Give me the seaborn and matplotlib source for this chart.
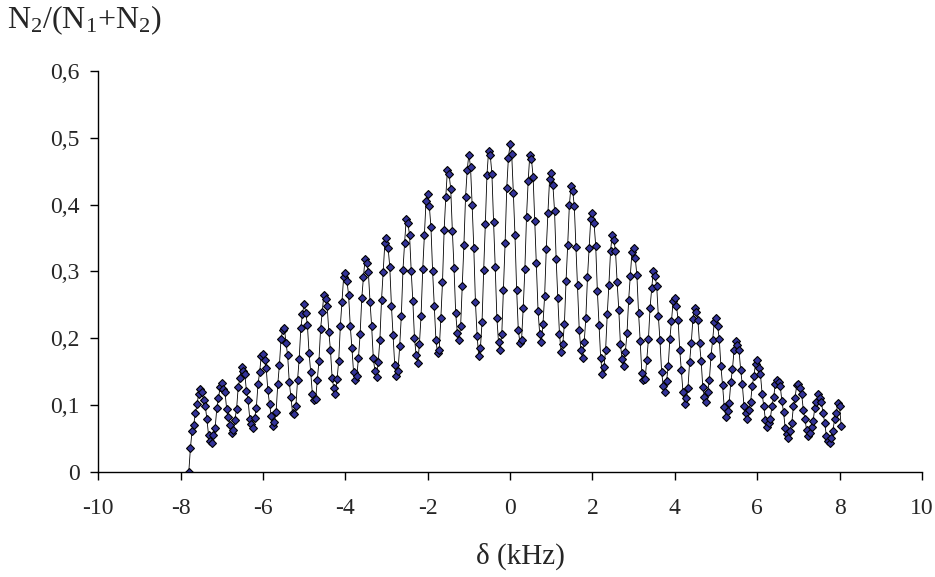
import seaborn as sns
import matplotlib.pyplot as plt
import pandas as pd

delta_khz = [
    -7.80, -7.76, -7.72, -7.68, -7.64, -7.60, -7.56, -7.52, -7.48, -7.44, -7.40, -7.36, -7.32, -7.28, -7.24, -7.20, -7.16, -7.12, -7.08, -7.04, -7.00, -6.96, -6.92, -6.88, -6.84,
    -6.80, -6.76, -6.72, -6.68, -6.64, -6.60, -6.56, -6.52, -6.48, -6.44, -6.40, -6.36, -6.32, -6.28, -6.24, -6.20, -6.16, -6.12, -6.08, -6.04, -6.00, -5.96, -5.92, -5.88, -5.84,
    -5.80, -5.76, -5.72, -5.68, -5.64, -5.60, -5.56, -5.52, -5.48, -5.44, -5.40, -5.36, -5.32, -5.28, -5.24, -5.20, -5.16, -5.12, -5.08, -5.04, -5.00, -4.96, -4.92, -4.88, -4.84,
    -4.80, -4.76, -4.72, -4.68, -4.64, -4.60, -4.56, -4.52, -4.48, -4.44, -4.40, -4.36, -4.32, -4.28, -4.24, -4.20, -4.16, -4.12, -4.08, -4.04, -4.00, -3.96, -3.92, -3.88, -3.84,
    -3.80, -3.76, -3.72, -3.68, -3.64, -3.60, -3.56, -3.52, -3.48, -3.44, -3.40, -3.36, -3.32, -3.28, -3.24, -3.20, -3.16, -3.12, -3.08, -3.04, -3.00, -2.96, -2.92, -2.88, -2.84,
    -2.80, -2.76, -2.72, -2.68, -2.64, -2.60, -2.56, -2.52, -2.48, -2.44, -2.40, -2.36, -2.32, -2.28, -2.24, -2.20, -2.16, -2.12, -2.08, -2.04, -2.00, -1.96, -1.92, -1.88, -1.84,
    -1.80, -1.76, -1.72, -1.68, -1.64, -1.60, -1.56, -1.52, -1.48, -1.44, -1.40, -1.36, -1.32, -1.28, -1.24, -1.20, -1.16, -1.12, -1.08, -1.04, -1.00, -0.96, -0.92, -0.88, -0.84,
    -0.80, -0.76, -0.72, -0.68, -0.64, -0.60, -0.56, -0.52, -0.48, -0.44, -0.40, -0.36, -0.32, -0.28, -0.24, -0.20, -0.16, -0.12, -0.08, -0.04, 0.00, 0.04, 0.08, 0.12, 0.16,
    0.20, 0.24, 0.28, 0.32, 0.36, 0.40, 0.44, 0.48, 0.52, 0.56, 0.60, 0.64, 0.68, 0.72, 0.76, 0.80, 0.84, 0.88, 0.92, 0.96, 1.00, 1.04, 1.08, 1.12, 1.16,
    1.20, 1.24, 1.28, 1.32, 1.36, 1.40, 1.44, 1.48, 1.52, 1.56, 1.60, 1.64, 1.68, 1.72, 1.76, 1.80, 1.84, 1.88, 1.92, 1.96, 2.00, 2.04, 2.08, 2.12, 2.16,
    2.20, 2.24, 2.28, 2.32, 2.36, 2.40, 2.44, 2.48, 2.52, 2.56, 2.60, 2.64, 2.68, 2.72, 2.76, 2.80, 2.84, 2.88, 2.92, 2.96, 3.00, 3.04, 3.08, 3.12, 3.16,
    3.20, 3.24, 3.28, 3.32, 3.36, 3.40, 3.44, 3.48, 3.52, 3.56, 3.60, 3.64, 3.68, 3.72, 3.76, 3.80, 3.84, 3.88, 3.92, 3.96, 4.00, 4.04, 4.08, 4.12, 4.16,
    4.20, 4.24, 4.28, 4.32, 4.36, 4.40, 4.44, 4.48, 4.52, 4.56, 4.60, 4.64, 4.68, 4.72, 4.76, 4.80, 4.84, 4.88, 4.92, 4.96, 5.00, 5.04, 5.08, 5.12, 5.16,
    5.20, 5.24, 5.28, 5.32, 5.36, 5.40, 5.44, 5.48, 5.52, 5.56, 5.60, 5.64, 5.68, 5.72, 5.76, 5.80, 5.84, 5.88, 5.92, 5.96, 6.00, 6.04, 6.08, 6.12, 6.16,
    6.20, 6.24, 6.28, 6.32, 6.36, 6.40, 6.44, 6.48, 6.52, 6.56, 6.60, 6.64, 6.68, 6.72, 6.76, 6.80, 6.84, 6.88, 6.92, 6.96, 7.00, 7.04, 7.08, 7.12, 7.16,
    7.20, 7.24, 7.28, 7.32, 7.36, 7.40, 7.44, 7.48, 7.52, 7.56, 7.60, 7.64, 7.68, 7.72, 7.76, 7.80, 7.84, 7.88, 7.92, 7.96, 8.00, 8.04,
]

ratio = [
    0.000, 0.036, 0.062, 0.071, 0.088, 0.101, 0.117, 0.124, 0.119, 0.108, 0.099, 0.079, 0.055, 0.047, 0.043, 0.056, 0.066, 0.095, 0.110, 0.127, 0.133, 0.124, 0.119, 0.094, 0.082,
    0.070, 0.059, 0.063, 0.078, 0.094, 0.127, 0.140, 0.157, 0.151, 0.147, 0.121, 0.107, 0.080, 0.072, 0.066, 0.081, 0.096, 0.131, 0.149, 0.174, 0.176, 0.168, 0.155, 0.122, 0.102,
    0.084, 0.069, 0.075, 0.090, 0.131, 0.160, 0.199, 0.212, 0.216, 0.193, 0.175, 0.134, 0.112, 0.088, 0.087, 0.098, 0.137, 0.169, 0.215, 0.236, 0.252, 0.238, 0.220, 0.178, 0.150,
    0.117, 0.108, 0.109, 0.138, 0.166, 0.214, 0.240, 0.265, 0.259, 0.248, 0.210, 0.182, 0.141, 0.126, 0.117, 0.139, 0.166, 0.219, 0.255, 0.292, 0.298, 0.286, 0.265, 0.219, 0.186,
    0.150, 0.138, 0.143, 0.171, 0.206, 0.260, 0.291, 0.319, 0.313, 0.299, 0.255, 0.218, 0.170, 0.151, 0.142, 0.165, 0.198, 0.258, 0.299, 0.342, 0.350, 0.335, 0.307, 0.249, 0.205,
    0.160, 0.144, 0.151, 0.188, 0.233, 0.302, 0.343, 0.379, 0.372, 0.355, 0.301, 0.256, 0.200, 0.175, 0.163, 0.192, 0.234, 0.303, 0.355, 0.405, 0.416, 0.398, 0.366, 0.300, 0.249,
    0.198, 0.178, 0.183, 0.230, 0.284, 0.362, 0.412, 0.452, 0.446, 0.423, 0.360, 0.305, 0.238, 0.208, 0.197, 0.218, 0.279, 0.340, 0.412, 0.452, 0.475, 0.457, 0.399, 0.335, 0.254,
    0.204, 0.173, 0.185, 0.224, 0.302, 0.371, 0.445, 0.481, 0.474, 0.446, 0.374, 0.307, 0.231, 0.194, 0.183, 0.207, 0.273, 0.342, 0.425, 0.470, 0.490, 0.476, 0.418, 0.354, 0.273,
    0.213, 0.193, 0.198, 0.246, 0.303, 0.382, 0.435, 0.475, 0.468, 0.442, 0.376, 0.313, 0.241, 0.207, 0.194, 0.222, 0.264, 0.334, 0.388, 0.438, 0.448, 0.430, 0.391, 0.318, 0.260,
    0.207, 0.179, 0.191, 0.222, 0.286, 0.340, 0.399, 0.428, 0.421, 0.398, 0.337, 0.280, 0.213, 0.182, 0.170, 0.194, 0.230, 0.291, 0.335, 0.379, 0.388, 0.372, 0.338, 0.271, 0.220,
    0.171, 0.147, 0.157, 0.182, 0.236, 0.280, 0.330, 0.355, 0.347, 0.331, 0.284, 0.243, 0.191, 0.169, 0.159, 0.180, 0.208, 0.258, 0.293, 0.329, 0.335, 0.320, 0.294, 0.238, 0.196,
    0.148, 0.137, 0.139, 0.168, 0.199, 0.246, 0.275, 0.301, 0.293, 0.279, 0.234, 0.197, 0.150, 0.128, 0.119, 0.136, 0.158, 0.199, 0.226, 0.256, 0.260, 0.249, 0.228, 0.183, 0.152,
    0.119, 0.102, 0.110, 0.126, 0.165, 0.193, 0.229, 0.246, 0.240, 0.228, 0.193, 0.166, 0.127, 0.112, 0.104, 0.120, 0.138, 0.174, 0.198, 0.225, 0.231, 0.218, 0.199, 0.158, 0.130,
    0.097, 0.083, 0.091, 0.103, 0.134, 0.154, 0.183, 0.196, 0.190, 0.182, 0.152, 0.131, 0.099, 0.088, 0.080, 0.093, 0.104, 0.129, 0.143, 0.162, 0.167, 0.156, 0.146, 0.117, 0.099,
    0.078, 0.067, 0.073, 0.080, 0.099, 0.112, 0.131, 0.137, 0.134, 0.129, 0.106, 0.090, 0.066, 0.057, 0.051, 0.062, 0.073, 0.098, 0.111, 0.130, 0.131, 0.126, 0.117, 0.093, 0.079,
    0.063, 0.054, 0.058, 0.068, 0.077, 0.096, 0.105, 0.116, 0.111, 0.104, 0.088, 0.074, 0.054, 0.047, 0.044, 0.051, 0.062, 0.079, 0.088, 0.103, 0.098, 0.069,
]

x_ticks = [-10, -8, -6, -4, -2, 0, 2, 4, 6, 8, 10]
y_ticks = [0, 0.1, 0.2, 0.3, 0.4, 0.5, 0.6]
y_tick_labels = ["0", "0,1", "0,2", "0,3", "0,4", "0,5", "0,6"]


def create_chart():
    sns.set_style("white")
    plt.rcParams["font.family"] = ["Liberation Serif", "DejaVu Serif"]
    plt.rcParams["mathtext.fontset"] = "custom"
    plt.rcParams["mathtext.rm"] = "Liberation Serif"
    plt.rcParams["mathtext.it"] = "Liberation Serif"

    df = pd.DataFrame({"delta": delta_khz, "ratio": ratio})

    fig = plt.figure(figsize=(9.35, 5.77), dpi=100)
    ax = fig.add_axes([0.105, 0.182, 0.881, 0.695])

    sns.lineplot(
        data=df, x="delta", y="ratio", ax=ax,
        estimator=None, sort=False,
        color="black", linewidth=0.6,
        marker="D", markersize=4.3,
        markerfacecolor="#333399", markeredgecolor="black", markeredgewidth=0.8,
    )

    ax.set_xlim(-10, 10)
    ax.set_ylim(0, 0.6)
    ax.set_xticks(x_ticks)
    ax.set_xticklabels([str(t) for t in x_ticks])
    ax.set_yticks(y_ticks)
    ax.set_yticklabels(y_tick_labels)

    for side in ["top", "right"]:
        ax.spines[side].set_visible(False)
    for side in ["left", "bottom"]:
        ax.spines[side].set_color("black")
        ax.spines[side].set_linewidth(1.0)

    ax.tick_params(axis="both", direction="out", length=5.5, width=1.0,
                   color="black", labelsize=17, bottom=True, left=True)
    ax.tick_params(axis="x", pad=13)
    ax.tick_params(axis="y", pad=8)

    ax.set_xlabel("")
    ax.set_ylabel("")
    fig.text(0.557, 0.036, "δ (kHz)", ha="center", va="center", fontsize=21)
    fig.text(0.008, 0.965, r"N$_2$/(N$_1$+N$_2$)", ha="left", va="center", fontsize=23)

    fig.savefig("out.png", dpi=100)
    plt.close(fig)


if __name__ == "__main__":
    create_chart()
